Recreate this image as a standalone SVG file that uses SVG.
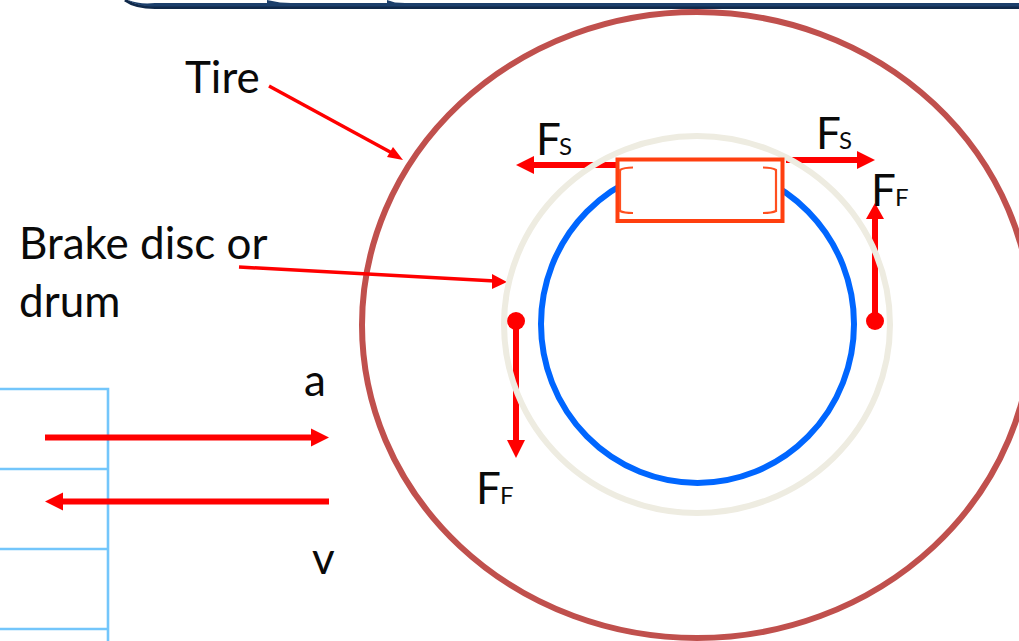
<svg xmlns="http://www.w3.org/2000/svg" width="1019" height="641" viewBox="0 0 1019 641">
<style>
text{font-family:Lato,"Open Sans","Liberation Sans",sans-serif;fill:#0a0a0a}
.l{font-size:44px}.s{font-size:24px}
.r{fill:none;stroke:#ff0000;stroke-width:6}
.p{fill:none;stroke:#ff0000;stroke-width:3.500}
.h{fill:#ff0000}
.b{fill:none;stroke:#73c6fb;stroke-width:2.600}
.c{fill:none;stroke-width:6}
</style>
<rect width="1019" height="641" fill="#fff"/>
<g id="banner">
<path d="M125 0C132 5 140 7.500 155 7.500H1019" fill="none" stroke="#10294a" stroke-width="3"/>
<path d="M128 0C136 3 144 4 155 3H1019V6.500H155C142 6.500 134 4 128 0Z" fill="#1c3f6b"/>
<path d="M267 0L280 2.500L291 3H267ZM387 0L395 2.500L405 3H387Z" fill="#1c3f6b"/>
</g>
<g id="grid"><path class="b" d="M0 389H108V641M0 469H108M0 549H108M0 629H108"/></g>
<g id="tire"><ellipse class="c" cx="697" cy="325" rx="335" ry="313" stroke="#c0504d"/></g>
<g id="connectors">
<path class="p" d="M269 86L392 153"/><path class="h" d="M403 160L387 157L393 147Z"/>
<path class="p" d="M239 267L495 281"/><path class="h" d="M507 282L492 289L492 274Z"/>
<path class="r" d="M45 437.500H314"/><path class="h" d="M329 437.500L311 428.500V446.500Z"/>
<path class="r" d="M329 501.500H60"/><path class="h" d="M45 501.500L63 492.500V510.500Z"/>
<path class="r" d="M620 165H532"/><path class="h" d="M516 165L534 156V174Z"/>
<path class="r" d="M786 160H860"/><path class="h" d="M875 160L857 151V169Z"/>
<path class="r" d="M875 320V218"/><path class="h" d="M875 203L866 219H884Z"/>
<path class="r" d="M516 320V440"/><path class="h" d="M516 458L507 440H525Z"/>
<circle class="h" cx="875" cy="321" r="9"/><circle class="h" cx="516" cy="321" r="9"/>
</g>
<g id="disc"><ellipse class="c" cx="697" cy="324.500" rx="193" ry="188.500" stroke="#eeece1"/></g>
<g id="drum"><ellipse class="c" cx="697.500" cy="324" rx="156.500" ry="159" stroke="#0066ff"/></g>
<g id="pad"><rect x="617.500" y="159.500" width="165" height="61.500" fill="#fff" stroke="#ff3f0f" stroke-width="4"/>
<path d="M633 167.500Q624 167.500 620 170V211Q624 213 633 213M763 167.500Q772 167.500 776 170V211Q772 213 763 213" fill="none" stroke="#ff4f1f" stroke-width="2.200"/></g>
<g id="labels">
<text class="l" x="185" y="93">Tire</text>
<text class="l" x="19" y="259">Brake disc or</text>
<text class="l" x="19" y="317">drum</text>
<text class="l" x="304" y="396">a</text>
<text class="l" x="312" y="574">v</text>
<text class="l" x="536" y="155">F<tspan class="s" dx="-2">S</tspan></text>
<text class="l" x="816" y="149">F<tspan class="s" dx="-2">S</tspan></text>
<text class="l" x="871" y="206">F<tspan class="s" dx="-1">F</tspan></text>
<text class="l" x="476" y="504">F<tspan class="s" dx="-1">F</tspan></text>
</g>
</svg>
